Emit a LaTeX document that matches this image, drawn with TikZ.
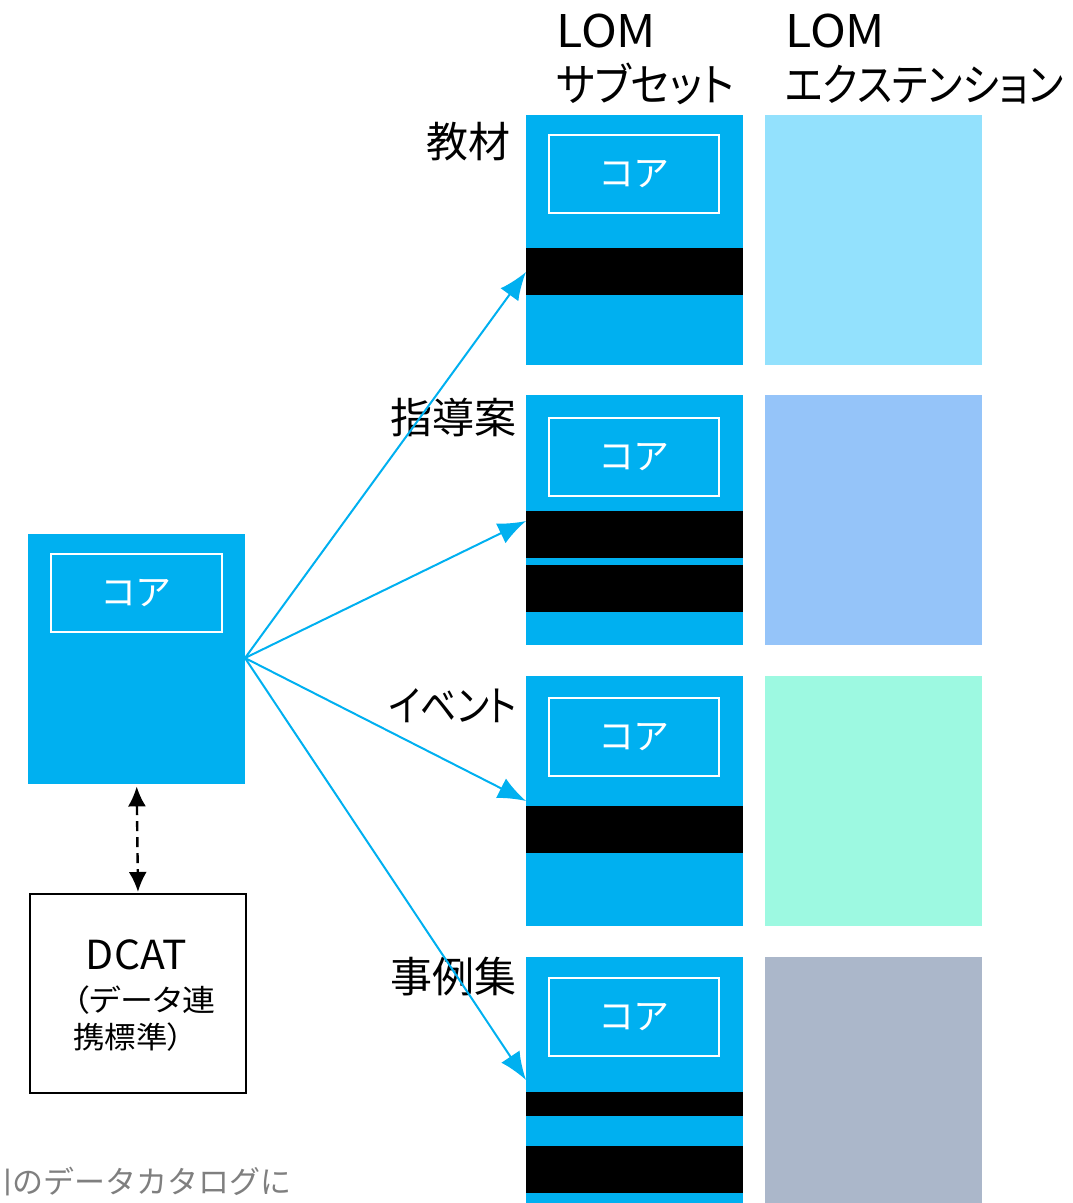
\documentclass[tikz,border=0pt]{standalone}
\usepackage{fontspec}
\setmainfont{Noto Sans CJK JP}
\newfontfamily\jpp[RawFeature=+palt]{Noto Sans CJK JP}
\newfontfamily\jpf{Noto Sans CJK JP}
\usetikzlibrary{arrows.meta}
\definecolor{cyanb}{HTML}{00B0F0}
\definecolor{extA}{HTML}{93E1FD}
\definecolor{extB}{HTML}{95C4F9}
\definecolor{extC}{HTML}{9DF9E1}
\definecolor{extD}{HTML}{ABB7CA}
\definecolor{greytxt}{HTML}{7F7F7F}
\newcommand{\wfit}[2]{\resizebox{#1}{\height}{#2}}
\begin{document}
\begin{tikzpicture}[x=1pt,y=-1pt,
  subset/.style={fill=cyanb, draw=none, inner sep=0pt, minimum width=217pt, minimum height=250pt, anchor=north west},
  extbox/.style={draw=none, inner sep=0pt, minimum width=217pt, minimum height=250pt, anchor=north west},
  core/.style={draw=white, line width=2pt, inner sep=0pt, minimum width=170pt, minimum height=78pt, text=white, font=\jpp\fontsize{36}{40}\selectfont},
  band/.style={fill=black},
  rowlab/.style={anchor=east, inner sep=0pt, font=\jpp\fontsize{42}{46}\selectfont},
  headtxt/.style={anchor=base west, inner sep=0pt, font=\jpp\fontsize{45}{50}\selectfont},
  conn/.style={draw=cyanb, line width=2pt, -{Latex[length=28pt,width=22pt]}},
  dconn/.style={draw=black, line width=2.4pt, dash pattern=on 10pt off 6pt, {Latex[length=20pt,width=18pt]}-{Latex[length=20pt,width=18pt]}}
]
\useasboundingbox (0,0) rectangle (1073,1203);

% headers
\node[headtxt] (h1a) at (556,47) {\wfit{100pt}{LOM}};
\node[headtxt] (h1b) at (556,101) {\wfit{178pt}{サブセット}};
\node[headtxt] (h2a) at (785,47) {\wfit{100pt}{LOM}};
\node[headtxt] (h2b) at (785,101) {\wfit{278pt}{エクステンション}};

% row labels
\node[rowlab] (l1) at (511,142) {教材};
\node[rowlab] (l2) at (517,417) {指導案};
\node[rowlab] (l3) at (517,706) {\wfit{128pt}{イベント}};
\node[rowlab] (l4) at (517,977) {事例集};

% subset boxes
\node[subset] (s1) at (526,115) {};
\node[subset] (s2) at (526,395) {};
\node[subset] (s3) at (526,676) {};
\node[subset, minimum height=246pt] (s4) at (526,957) {};

% extension boxes
\node[extbox, fill=extA] (e1) at (765,115) {};
\node[extbox, fill=extB] (e2) at (765,395) {};
\node[extbox, fill=extC] (e3) at (765,676) {};
\node[extbox, fill=extD, minimum height=246pt] (e4) at (765,957) {};

% black bands
\fill[band] (526,248) rectangle (743,295);
\fill[band] (526,511) rectangle (743,558);
\fill[band] (526,565) rectangle (743,612);
\fill[band] (526,806) rectangle (743,853);
\fill[band] (526,1092) rectangle (743,1116);
\fill[band] (526,1146) rectangle (743,1193);

% core boxes
\node[core] (c1) at (634,174) {コア};
\node[core] (c2) at (634,457) {コア};
\node[core] (c3) at (634,737) {コア};
\node[core] (c4) at (634,1017) {コア};

% left box
\node[subset] (L) at (28,534) {};
\node[core, minimum width=171pt] (cL) at (136.5,593) {コア};

% DCAT box
\node[draw=black, line width=2pt, inner sep=0pt, minimum width=216pt, minimum height=199pt, anchor=north west] (D) at (29,893) {};
\node[inner sep=0pt, font=\jpf\fontsize{40}{44}\selectfont] (Dt) at (136.5,955) {\wfit{101pt}{DCAT}};
\node[anchor=base west, inner sep=0pt, font=\jpp\fontsize{30}{34}\selectfont] (Dt2) at (73,1011) {\wfit{142pt}{（データ連}};
\node[anchor=base west, inner sep=0pt, font=\jpp\fontsize{30}{34}\selectfont] (Dt3) at (73,1048) {\wfit{110pt}{携標準）}};

% bottom grey text
\node[anchor=east, inner sep=0pt, text=greytxt, font=\jpf\fontsize{31}{34}\selectfont] (bt) at (292,1182) {川のデータカタログに};

% connectors
\coordinate (t1) at (526,272);
\coordinate (t2) at (526,521);
\coordinate (t3) at (526,801);
\coordinate (t4) at (526,1080);
\coordinate (o) at (245,658);
\draw[conn] (o) -- (t1);
\draw[conn] (o) -- (t2);
\draw[conn] (o) -- (t3);
\draw[conn] (o) -- (t4);
\coordinate (ds) at ([yshift=-2pt]L.south);
\coordinate (de) at ([yshift=1pt]D.north);
\draw[dconn] (ds) -- (de);
\end{tikzpicture}
\end{document}
